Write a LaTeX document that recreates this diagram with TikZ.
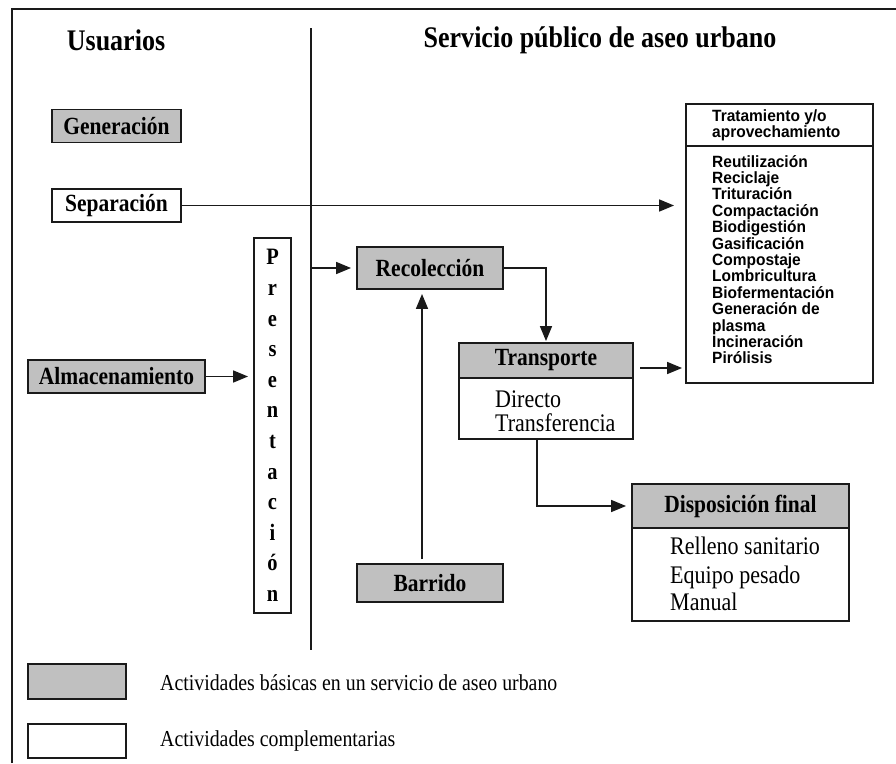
\documentclass[tikz,border=0pt]{standalone}
\usepackage{fontspec}
\setmainfont{Liberation Serif}[FakeStretch=0.87]
\newfontfamily\listfont{Liberation Sans}[FakeStretch=0.95]
\usetikzlibrary{arrows.meta}
\definecolor{boxgray}{HTML}{C0C0C0}
\definecolor{ink}{HTML}{1A1A1A}

\begin{document}
\begin{tikzpicture}[x=1pt,y=-1pt,
  box/.style={draw=ink, line width=1.9pt, rectangle, inner sep=0pt,
    font=\bfseries\fontsize{24.7}{27}\selectfont},
  basic/.style={box, fill=boxgray},
  extra/.style={box, fill=white},
  flow/.style={draw=ink, line width=1.7pt, -{Triangle[length=15pt,width=12pt]}},
  plain/.style={draw=ink, line width=1.7pt},
  bodytext/.style={anchor=west, inner sep=0pt, font=\fontsize{25.3}{27}\selectfont},
  listtext/.style={anchor=north west, inner sep=0pt, align=left,
    font=\listfont\bfseries\fontsize{16.3}{16.4}\selectfont},
  heading/.style={inner sep=0pt, font=\bfseries\fontsize{29.9}{32}\selectfont},
  legendtext/.style={anchor=west, inner sep=0pt, font=\fontsize{22.8}{25}\selectfont}
]
\useasboundingbox (0,0) rectangle (896,763);

% outer frame (left and top edges)
\coordinate (frameTL) at (12,9);
\coordinate (frameTR) at (896,9);
\coordinate (frameBL) at (12,763);
\draw[ink, line width=2pt] (frameBL) -- (frameTL) -- (frameTR);

% column headings and divider
\node[heading] (usuarios) at (116,40) {Usuarios};
\node[heading] (servicio) at (600,40) {Servicio público de aseo urbano};
\coordinate (divtop) at (311,28);
\coordinate (divbot) at (311,650);
\draw[plain] (divtop) -- (divbot);

% user-side activities
\node[basic, minimum width=129, minimum height=33] (gen) at (116.5,126) {Generación};
\node[extra, minimum width=129, minimum height=33] (sep) at (116.5,205.5) {Separación};
\node[basic, minimum width=177, minimum height=33] (alm) at (116.5,376.5) {Almacenamiento};
\node[extra, minimum width=37, minimum height=375, align=center,
  font=\bfseries\fontsize{23.5}{30.6}\selectfont] (pres) at (272.5,425.5)
  {P\\r\\e\\s\\e\\n\\t\\a\\c\\i\\ó\\n};

% service-side activities
\node[basic, minimum width=146, minimum height=42] (recol) at (430,268) {Recolección};
\node[basic, minimum width=146, minimum height=38] (barr) at (430,583) {Barrido};

\node[basic, minimum width=174, minimum height=35] (transpH) at (546,360.5) {Transporte};
\node[extra, minimum width=174, minimum height=61] (transpB) at (546,408.5) {};
\node[bodytext] (directo) at (495,399) {Directo};
\node[bodytext] (transf) at (495,423) {Transferencia};

\node[basic, minimum width=217, minimum height=44] (dispH) at (740.5,506) {Disposición final};
\node[extra, minimum width=217, minimum height=93] (dispB) at (740.5,574.5) {};
\node[bodytext] (relleno) at (670,546) {Relleno sanitario};
\node[bodytext] (equipo) at (670,577) {Equipo pesado};
\node[bodytext] (manual) at (670,602) {Manual};

\node[extra, minimum width=187, minimum height=42] (tratH) at (779.5,125) {};
\node[extra, minimum width=187, minimum height=237] (tratB) at (779.5,264.5) {};
\node[listtext] (trathead) at (712,109) {Tratamiento y/o\\aprovechamiento};
\node[listtext] (tratlist) at (712,155) {Reutilización\\Reciclaje\\Trituración\\Compactación\\Biodigestión\\Gasificación\\Compostaje\\Lombricultura\\Biofermentación\\Generación de\\plasma\\Incineración\\Pirólisis};

% connectors
\draw[flow, shorten >=11pt] (sep.east) -- (sep.east -| tratB.west);
\draw[flow, shorten >=5pt] (alm.east) -- (alm.east -| pres.west);
\draw[flow, shorten >=5pt] (recol.west -| divtop) -- (recol.west);
\draw[flow, shorten >=1pt] (recol.east) -| (transpH.north);
\draw[flow, shorten <=4pt, shorten >=4pt] ([xshift=-8pt]barr.north) -- ([xshift=-8pt]recol.south);
\coordinate (toTrat) at (640,368);
\draw[flow, shorten >=3pt] (toTrat) -- (toTrat -| tratB.west);
\draw[flow, shorten >=5pt] ([xshift=-9pt]transpB.south) |- (dispH.west);

% legend
\node[box, fill=boxgray, line width=1.6pt, minimum width=98, minimum height=35] (legbasic) at (77,681.5) {};
\node[box, fill=white, line width=1.6pt, minimum width=98, minimum height=34] (legextra) at (77,741) {};
\node[legendtext] (legbasictext) at (160,683) {Actividades básicas en un servicio de aseo urbano};
\node[legendtext] (legextratext) at (160,741) {Actividades complementarias};
\end{tikzpicture}
\end{document}
